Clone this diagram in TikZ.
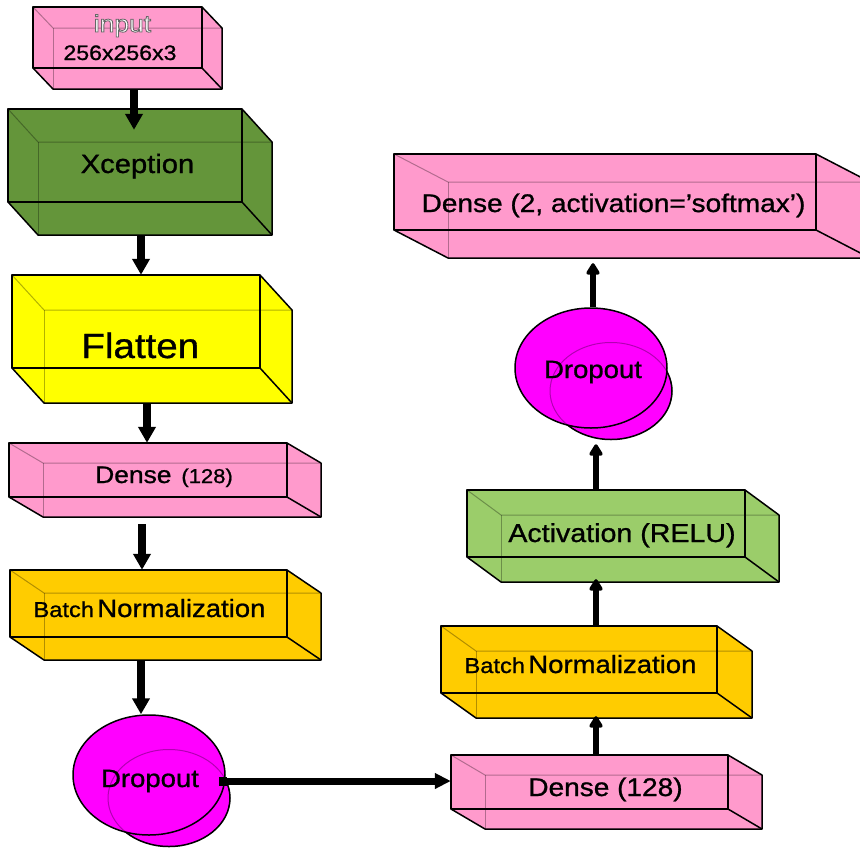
\documentclass[tikz,border=0pt]{standalone}
\usepackage{fontspec}
\setmainfont{Liberation Sans}[FakeBold=0.9]
\newfontfamily\plainsans{Liberation Sans}
\usepackage{graphicx}
\usetikzlibrary{arrows.meta,shapes.geometric,fit,calc}
\definecolor{pinkc}{HTML}{FF9ACC}
\definecolor{xgreen}{HTML}{64953A}
\definecolor{yelc}{HTML}{FFFF00}
\definecolor{orc}{HTML}{FFCC00}
\definecolor{lgreen}{HTML}{9BCD6A}
\definecolor{magc}{HTML}{FF00FF}
\newcommand\fs[1]{\fontsize{#1}{#1}\selectfont}
\newcommand\sx[1]{\scalebox{1.1}[1]{#1}}
\tikzset{
  edge/.style={draw=black, line width=1.5pt, line join=round},
  hidden/.style={draw=black, draw opacity=0.3, line width=1pt},
  lbl/.style={inner sep=0pt, anchor=base},
  larr/.style={line width=7.5pt, -{Triangle[width=17pt,length=16pt]}},
  rarr/.style={line width=5.5pt, -{Triangle[round,width=15pt,length=13pt]}},
  harr/.style={line width=7pt, {Square[length=8pt,width=9pt]}-{Triangle[width=15pt,length=16pt]}},
  dropf/.style={ellipse, fill=magc, draw=black, line width=1.5pt, inner sep=0pt, minimum width=152pt, minimum height=120pt},
  dropb/.style={ellipse, fill=magc, draw=black, line width=1.5pt, inner sep=0pt, minimum width=122pt, minimum height=97pt},
}
% name, x1, y1, x2, y2, dx, dy, fill
\newcommand\cuboid[8]{%
  \fill[#8] (#2,#3) -- (#4,#3) -- ++(#6,#7) -- ++(0,#5-#3) -- ++(#2-#4,0) -- (#2,#5) -- cycle;
  \draw[hidden] (#2,#3) -- ++(#6,#7) -- ++(#4-#2,0);
  \draw[hidden] (#2,#3) ++(#6,#7) -- ++(0,#5-#3);
  \draw[edge] (#2,#3) rectangle (#4,#5);
  \draw[edge] (#4,#3) -- ++(#6,#7) -- ++(0,#5-#3) -- ++(#2-#4,0) -- (#2,#5);
  \draw[edge] (#4,#5) -- ++(#6,#7);
  \coordinate (#1-nw) at (#2,#3);
  \coordinate (#1-se) at (#4+#6,#5+#7);
  \node[fit=(#1-nw)(#1-se), inner sep=0pt] (#1) {};
}
\begin{document}
\begin{tikzpicture}[x=1pt, y=-1pt]
\useasboundingbox (0,0) rectangle (860,847);
\clip (0,0) rectangle (860,847);
\fill[white] (0,0) rectangle (860,847);

% boxes
\cuboid{inp}{33}{7}{202}{68}{20}{21}{pinkc}
\cuboid{xcep}{8}{109}{242}{202}{30}{33}{xgreen}
\cuboid{flat}{12}{275}{260}{368}{32}{35}{yelc}
\cuboid{dense1}{9}{443}{287}{497}{34}{20}{pinkc}
\cuboid{bn1}{10}{570}{287}{637}{34}{23}{orc}
\cuboid{dense2}{451}{755}{728}{809}{34}{20}{pinkc}
\cuboid{bn2}{441}{626}{717}{693}{35}{25}{orc}
\cuboid{act}{467}{490}{745}{557}{34}{25}{lgreen}
\cuboid{soft}{394}{154}{816}{230}{54}{28}{pinkc}

% dropout discs
\node[dropb] (drop1b) at (169,798) {};
\node[dropf] (drop1) at (149,775) {};
\draw[hidden] (drop1b.center) ellipse [x radius=61pt, y radius=48.5pt];
\node[dropb] (drop2b) at (611,391) {};
\node[dropf] (drop2) at (591,368) {};
\draw[hidden] (drop2b.center) ellipse [x radius=61pt, y radius=48.5pt];

% arrow x positions
\coordinate (c1) at (134,0);
\coordinate (c2) at (141,0);
\coordinate (c3) at (147,0);
\coordinate (c4) at (142,0);
\coordinate (c5) at (141,0);
\coordinate (c6) at (596,0);
\coordinate (c7) at (593,0);
\coordinate (h) at (0,781);

% connectors
\draw[larr] (inp.south -| c1) -- ($(xcep.north -| c1)+(0,21)$);
\draw[larr] (xcep.south -| c2) -- (flat.north -| c2);
\draw[larr] (flat.south -| c3) -- (dense1.north -| c3);
\draw[larr] ($(dense1.south -| c4)+(0,7)$) -- (bn1.north -| c4);
\draw[larr] (bn1.south -| c5) -- (drop1.north -| c5);
\draw[harr] ($(drop1.east |- h)+(-7,0)$) -- (dense2.west |- h);
\draw[rarr] (dense2.north -| c6) -- ($(bn2.south -| c6)+(0,-2)$);
\draw[rarr] (bn2.north -| c6) -- ($(act.south -| c6)+(0,-3)$);
\draw[rarr] (act.north -| c6) -- ($(drop2b.south -| c6)+(0,4)$);
\draw[rarr] (drop2.north -| c7) -- ($(soft.south -| c7)+(0,5)$);

% labels
\node[lbl] (inpt2) at (120,60) {\fs{21}\sx{256x256x3}};
\node[lbl] (xcept) at (137.5,173) {\fs{26.5}\sx{Xception}};
\node[lbl] (flatt) at (140.3,358) {\fs{35}\sx{Flatten}};
\node[lbl] (dense1t) at (164,483) {\sx{\fs{24}Dense\hspace{9pt}\fs{20}(128)}};
\node[lbl] (bn1t) at (149.5,617) {\sx{\fs{21.5}Batch\hspace{3pt}\fs{25}Normalization}};
\node[lbl] (drop1t) at (150,787) {\fs{25}\sx{Dropout}};
\node[lbl] (dense2t) at (605.5,796) {\fs{25.5}\sx{Dense (128)}};
\node[lbl] (bn2t) at (580.5,673) {\sx{\fs{21.5}Batch\hspace{3pt}\fs{25}Normalization}};
\node[lbl] (actt) at (622,542) {\fs{26}\sx{Activation (RELU)}};
\node[lbl] (drop2t) at (593,378) {\fs{25}\sx{Dropout}};
\node[lbl] (softt) at (613.5,212) {\fs{25.5}\sx{Dense (2, activation=’softmax’)}};
\node[lbl, text=white] (inpt1) at (122.5,32) {\plainsans\special{pdf:literal direct 2 Tr 0.8 w 0.4 0.4 0.4 RG}\fs{24}\sx{input}\special{pdf:literal direct 0 Tr 0 G}};
\end{tikzpicture}
\end{document}
